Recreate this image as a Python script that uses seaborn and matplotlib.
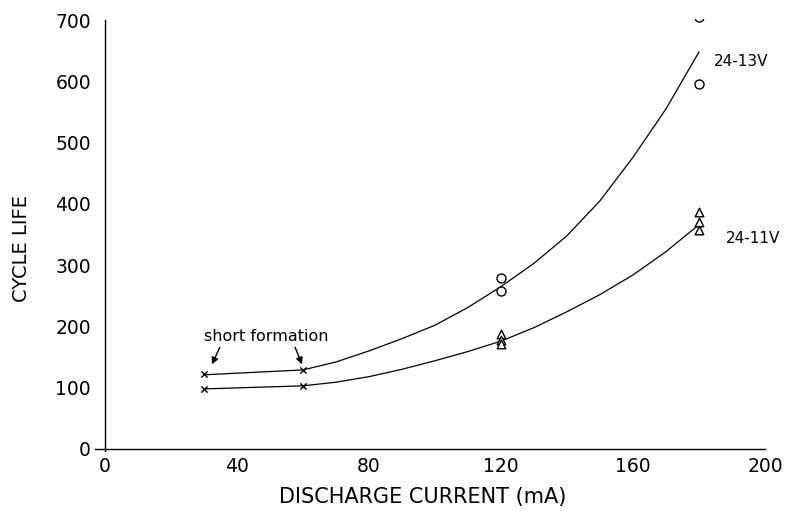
import matplotlib
matplotlib.use("Agg")
import matplotlib.pyplot as plt
import seaborn as sns
import pandas as pd

# ---- data ----
# fitted curves
curve_x = [30, 60, 70, 80, 90, 100, 110, 120, 130, 140, 150, 160, 170, 180]
curve_13v = [121, 129, 142, 160, 180, 202, 231, 265, 303, 348, 405, 476, 555, 648]
curve_11v = [98, 103, 109, 118, 130, 144, 159, 176, 198, 224, 252, 284, 322, 366]

# short-formation points (x markers)
short_x = [30, 60, 30, 60]
short_y = [122, 129, 98, 103]

# 24-13V measured cells (circles)
c13_x = [120, 120, 180, 180]
c13_y = [279, 258, 705, 595]

# 24-11V measured cells (triangles)
c11_x = [120, 120, 120, 180, 180, 180]
c11_y = [187, 178, 171, 386, 370, 357]

x_ticks = [0, 40, 80, 120, 160, 200]
x_minor = [20, 60, 100, 140, 180]
y_ticks = [0, 100, 200, 300, 400, 500, 600, 700]

sns.set_style("white")
plt.rcParams['font.family'] = ['DejaVu Sans']
plt.rcParams['text.color'] = 'black'
plt.rcParams['axes.labelcolor'] = 'black'

fig = plt.figure(figsize=(7.94, 5.11), dpi=100)
# data x: -3..201 -> px 95.1..768.3 ; data y: -3..702 -> px 450.8..18.8
ax = fig.add_axes([95.1/794, 1-450.8/511, 673.2/794, 432.0/511])

df13 = pd.DataFrame({"x": curve_x, "y": curve_13v})
df11 = pd.DataFrame({"x": curve_x, "y": curve_11v})
sns.lineplot(data=df13, x="x", y="y", ax=ax, color="black", lw=0.9)
sns.lineplot(data=df11, x="x", y="y", ax=ax, color="black", lw=0.9)

sns.scatterplot(x=short_x, y=short_y, ax=ax, marker="x", s=20, color="black",
                linewidth=1.0, zorder=5)
sns.scatterplot(x=c13_x, y=c13_y, ax=ax, marker="o", s=42, facecolor="white",
                edgecolor="black", linewidth=1.0, zorder=5)
sns.scatterplot(x=c11_x, y=c11_y, ax=ax, marker="^", s=38, facecolor="white",
                edgecolor="black", linewidth=1.0, zorder=5)

ax.set_xlim(-3, 201)
ax.set_ylim(-3, 702)
ax.spines['left'].set_position(('data', 0))
ax.spines['bottom'].set_position(('data', 0))
for s in ['top', 'right']:
    ax.spines[s].set_visible(False)
for s in ['left', 'bottom']:
    ax.spines[s].set_color("black")
    ax.spines[s].set_linewidth(1.0)
ax.spines['left'].set_bounds(-3, 700)
ax.spines['bottom'].set_bounds(-3, 200)

ax.set_xticks(x_ticks)
ax.set_xticks(x_minor, minor=True)
ax.set_yticks(y_ticks)
ax.set_xticklabels([str(v) for v in x_ticks])
ax.set_yticklabels([str(v) for v in y_ticks])
ax.tick_params(axis='x', which='both', direction='in', length=6, width=0.9,
               colors='black', labelsize=13.5)
ax.tick_params(axis='x', which='major', pad=6)
ax.tick_params(axis='y', direction='out', length=8, width=0.9,
               colors='black', labelsize=13.5, pad=2)
ax.tick_params(axis='x', which='minor', labelbottom=False)

ax.set_xlabel("DISCHARGE CURRENT (mA)", fontsize=15, color="black")
ax.set_ylabel("CYCLE LIFE", fontsize=14, color="black")
ax.xaxis.set_label_coords((423 - 95.1) / 673.2, (450.8 - 497) / 432.0)
ax.yaxis.set_label_coords((22 - 95.1) / 673.2, (450.8 - 248) / 432.0)
ax.xaxis.label.set_va("center")
ax.yaxis.label.set_va("center")

ax.text(184.5, 633, "24-13V", fontsize=11, va="center", ha="left", color="black")
ax.text(188, 344, "24-11V", fontsize=11, va="center", ha="left", color="black")

ax.text(48.8, 184, "short formation", fontsize=11.5, ha="center", va="center",
        color="black")
ax.annotate("", xy=(32.4, 138), xytext=(34.8, 166),
            arrowprops=dict(arrowstyle="-|>", color="black", lw=1.0,
                            mutation_scale=10, shrinkA=0, shrinkB=0))
ax.annotate("", xy=(59.7, 138), xytext=(57.6, 166),
            arrowprops=dict(arrowstyle="-|>", color="black", lw=1.0,
                            mutation_scale=10, shrinkA=0, shrinkB=0))

fig.savefig("out.png", dpi=100)
